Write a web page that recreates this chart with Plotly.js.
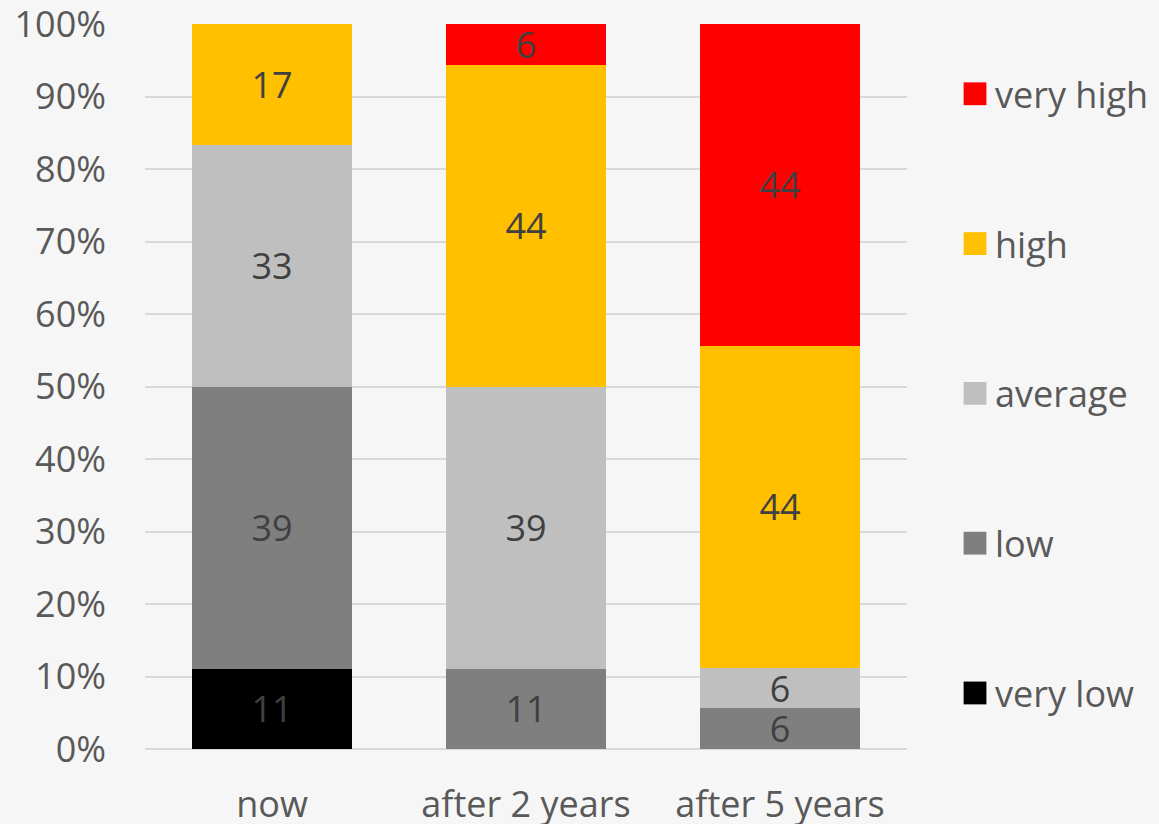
<!DOCTYPE html>
<html>
<head>
<meta charset="utf-8">
<script src="https://cdn.plot.ly/plotly-3.0.1.min.js"></script>
<style>
html,body{margin:0;padding:0;background:#f6f6f6;}
#chart{width:1159px;height:824px;}
</style>
</head>
<body>
<div id="chart"></div>
<script>
const categories = ['now', 'after 2 years', 'after 5 years'];
const veryLow  = [11.1, null, null];
const low      = [38.9, 11.1, 5.6];
const average  = [33.3, 38.9, 5.6];
const high     = [16.7, 44.4, 44.4];
const veryHigh = [null, 5.6, 44.4];
const yTickVals = [0, 10, 20, 30, 40, 50, 60, 70, 80, 90, 100];
const yTickText = ['0%', '10%', '20%', '30%', '40%', '50%', '60%', '70%', '80%', '90%', '100%'];

const FONT = '"Open Sans", "DejaVu Sans", sans-serif';
const series = [
  {name: 'very low', y: veryLow, color: '#000000'},
  {name: 'low', y: low, color: '#7f7f7f'},
  {name: 'average', y: average, color: '#bfbfbf'},
  {name: 'high', y: high, color: '#ffc000'},
  {name: 'very high', y: veryHigh, color: '#ff0000'}
];

const traces = series.map((s, i) => ({
  type: 'bar',
  name: s.name,
  x: categories,
  y: s.y,
  legendgroup: 'g' + i,
  legendrank: 10 - i,
  marker: {color: s.color, line: {width: 0}},
  texttemplate: '%{y:.0f}',
  textposition: 'inside',
  insidetextanchor: 'middle',
  textangle: 0,
  constraintext: 'none',
  textfont: {family: FONT, size: 36, color: '#404040'},
  hoverinfo: 'skip'
}));

const layout = {
  width: 1159,
  height: 824,
  barmode: 'stack',
  bargap: 0.37,
  paper_bgcolor: '#f6f6f6',
  plot_bgcolor: 'rgba(0,0,0,0)',
  margin: {l: 145, r: 252, t: 24, b: 75, pad: 0, autoexpand: false},
  font: {family: FONT, size: 36, color: '#595959'},
  xaxis: {
    type: 'category',
    showgrid: false,
    showline: false,
    zeroline: false,
    ticks: '',
    automargin: false,
    tickfont: {family: FONT, size: 36, color: '#595959'},
    ticklabelstandoff: 31
  },
  yaxis: {
    range: [0, 100],
    tickmode: 'array',
    tickvals: yTickVals,
    ticktext: yTickText,
    showgrid: true,
    gridcolor: '#d9d9d9',
    gridwidth: 2,
    zeroline: true,
    zerolinecolor: '#d9d9d9',
    zerolinewidth: 2,
    showline: false,
    ticks: '',
    automargin: false,
    tickfont: {family: FONT, size: 36, color: '#595959'},
    ticklabelstandoff: 38,
    ticklabeloverflow: 'allow'
  },
  showlegend: true,
  legend: {
    x: 1.063,
    xanchor: 'left',
    y: 0.945,
    yanchor: 'top',
    traceorder: 'grouped',
    tracegroupgap: 100,
    font: {family: FONT, size: 36, color: '#595959'},
    bgcolor: 'rgba(0,0,0,0)',
    borderwidth: 0
  }
};

Plotly.newPlot('chart', traces, layout, {displayModeBar: false, staticPlot: true}).then(function () {
  document.querySelectorAll('.legend .legendpoints path').forEach(function (p) {
    const t = p.getAttribute('transform') || '';
    p.setAttribute('transform', t + ' scale(1.9)');
  });
});
</script>
</body>
</html>
